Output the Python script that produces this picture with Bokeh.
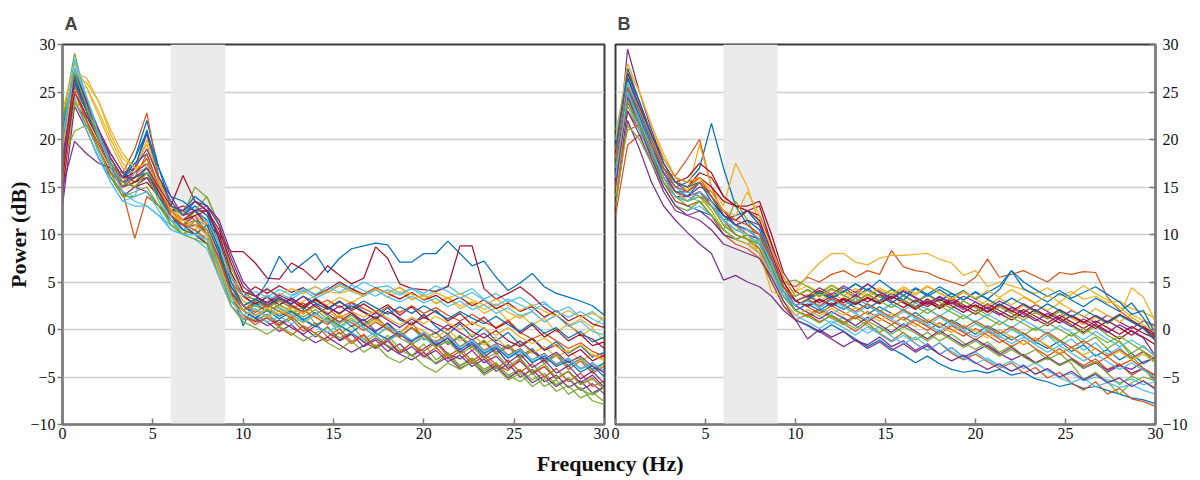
from bokeh.plotting import figure
from bokeh.layouts import column, row
from bokeh.models import Range1d, FixedTicker, ColumnDataSource
from bokeh.embed import file_html
from bokeh.resources import INLINE
from bokeh.core.properties import value

# frequency bins (Hz)
freq = [0, 0.67, 1.33, 2.0, 2.67, 3.33, 4.0, 4.67, 5.33, 6.0, 6.67, 7.33, 8.0, 8.67, 9.33, 10.0,
        10.67, 11.33, 12.0, 12.67, 13.33, 14.0, 14.67, 15.33, 16.0, 16.67, 17.33, 18.0, 18.67,
        19.33, 20.0, 20.67, 21.33, 22.0, 22.67, 23.33, 24.0, 24.67, 25.33, 26.0, 26.67, 27.33,
        28.0, 28.67, 29.33, 30.0]
band = [6, 9]          # shaded theta band (Hz)
x_ticks = [0, 5, 10, 15, 20, 25, 30]
y_ticks = [-10, -5, 0, 5, 10, 15, 20, 25, 30]
panel_labels = ["A", "B"]

# ---- Panel A (power in dB per subject) ----
a01 = [20, 27, 23, 20, 18, 16, 18, 22, 17, 13, 12, 13, 12, 9, 4, 0.4, 3, 5, 7.7, 6, 7, 8, 6, 7.5, 8.5, 8.8, 9.1, 8.9, 7.1, 7.1, 8, 8, 9.3, 8, 6.7, 7.2, 5.5, 4.1, 4.9, 5.9, 4.5, 3.8, 3.4, 3, 2.5, 1.5]
a02 = [19, 26, 22, 19.5, 17, 16.5, 19, 22.8, 16, 13, 12.5, 11.5, 11, 8, 5, 3.5, 3.2, 2.4, 3.1, 2.2, 2.8, 1.6, 2.3, 1.2, 1.9, 0.6, 1.4, 0.2, -0.4, 0.8, -1.1, -0.3, -1.6, -0.7, -2.2, -1.3, -2.6, -1.8, -3.1, -2.2, -3.6, -2.7, -4.2, -3.3, -4.6, -3.9]
a03 = [18, 25, 25.5, 23, 20, 17.5, 16, 17, 15, 13, 11.5, 11, 10.5, 7, 4.5, 3, 2.5, 2, 1.5, 2.2, 3, 3.5, 4, 3.8, 4.2, 3.5, 4.3, 3.9, 4.5, 3.2, 3.6, 2.8, 3.4, 2.5, 2.9, 2.1, 2.7, 1.8, 1.2, 1.9, 0.8, 1.5, 0.4, 1.1, 0.2, 1.4]
a04 = [16, 24, 22, 19, 16.5, 15, 17, 20.6, 15.5, 12.5, 11, 12, 10, 7.5, 3.5, 1.5, 0.8, 1.2, 0.5, 1.4, 0.2, -0.8, 0.3, -1.2, -0.5, -1.8, -1.1, -2.3, -1.5, -2.8, -2, -1.2, -2.6, -3.1, -2.2, -3.5, -2.8, -4.1, -3.3, -4.6, -3.9, -5.2, -4.4, -5.6, -4.8, -6.1]
a05 = [22, 29.1, 24, 20, 17.5, 15, 15.5, 16, 14, 12, 11, 12.5, 14, 11, 6, 3.5, 2.5, 3.5, 2.2, 1.5, 2.5, 0.5, 1.2, -0.5, 0.4, -1, -1.8, -0.6, -2.1, -2.8, -1.5, -3.2, -2.4, -3.8, -3, -4.2, -3.5, -4.8, -5.5, -4.6, -6, -5.3, -6.8, -6.1, -7.5, -7.9]
a06 = [21, 28.2, 24, 20, 17, 14.5, 13.5, 13, 12, 11, 10.5, 10, 9.5, 6, 3, 2, 2.5, 3, 3.8, 3.2, 4, 4.5, 3.9, 4.8, 4.2, 5, 4.4, 4.6, 3.8, 4.3, 3.5, 4.1, 4.6, 3.7, 4.3, 3.2, 3.8, 2.9, 3.4, 2.5, 2.9, 1.8, 2.4, 1.3, 1.9, 0.8]
a07 = [18, 27, 24, 21, 18.5, 16.5, 15.5, 16, 14, 12.5, 13, 12.5, 11, 10, 8.2, 8.2, 7, 5.4, 5.3, 7, 6.3, 5.2, 6.7, 5.7, 4.8, 5.4, 8.7, 7.5, 4.8, 4.3, 4.2, 4, 4.5, 8.8, 8.8, 4.3, 3.2, 3.8, 4.5, 3.5, 2.3, 1.5, 0.5, -0.5, -1, -2]
a08 = [17, 25, 22.5, 20, 18, 16, 17, 21, 16, 13.5, 12, 13.5, 12.5, 8, 4, 2, 2.8, 1.9, 2.6, 3.2, 2.1, 3.3, 2.4, 1.6, 2.8, 1.9, 1.2, 2.3, 1, 0.5, 1.6, 0.3, -0.5, 0.6, -0.8, 0.2, -1.2, -0.3, -1.6, -0.9, -2.1, -1.3, -2.5, -1.7, -2.9, -2.4]
a09 = [15, 24, 21.5, 19, 16, 14.5, 9.6, 14, 13, 12, 11, 10, 9, 5.5, 2.5, 1.2, 0.9, 1.6, 0.4, 1.1, -0.2, 0.7, -0.8, 0.1, -1.3, -0.5, -1.9, -1.1, -0.4, -1.6, -2.3, -1.4, -2.8, -2, -3.3, -2.5, -3.7, -4.3, -3.1, -4.7, -3.9, -5.2, -4.4, -5.8, -5.1, -6.3]
a10 = [20, 26.5, 26, 24, 20.5, 18, 17, 19.5, 15.5, 12.5, 11, 10.5, 11.5, 9, 5, 3, 2, 1.5, 2.5, 1.8, 2.4, 3, 2.6, 3.4, 2.8, 3.6, 4.2, 3.4, 4, 3.1, 3.7, 2.7, 3.3, 2.2, 2.8, 1.7, 2.3, 0.9, 1.6, 0.5, 1.2, -0.3, 0.6, -0.7, 0.1, -1.2]
a11 = [13, 23.5, 21, 18, 16, 14, 15, 16, 14.5, 12, 10.5, 11, 10, 7.5, 4.5, 2.5, 1.5, 0.8, -0.2, 0.5, -0.6, -1.4, -0.8, -1.6, -2.4, -1.7, -0.9, -1.8, -2.6, -3.2, -2.4, -3.6, -2.9, -4.1, -3.4, -4.6, -3.8, -5.1, -4.3, -5.6, -4.9, -6, -5.2, -6.4, -5.7, -6.8]
a12 = [18, 20.9, 21.5, 19, 16.5, 14, 14.5, 15, 13, 11.5, 10, 10.5, 9, 6, 3, 1.5, 1, 1.6, 0.7, 1.3, 0.3, -0.4, 0.2, -0.9, -0.3, -1.3, -0.6, -1.7, -2.3, -1.5, -2.8, -3.5, -2.6, -3.9, -3.1, -4.4, -3.6, -4.8, -4.2, -5.3, -4.6, -5.8, -5.1, -6.3, -6.9, -6.1]
a13 = [19, 26, 22, 18.5, 15.5, 13.5, 14, 17.5, 14, 11, 10, 9.5, 10, 7, 4, 2.5, 3, 3.6, 2.9, 3.5, 4.1, 3.3, 3.9, 4.6, 4, 3.5, 4.2, 3.4, 2.9, 3.5, 2.8, 3.3, 2.4, 3, 2.1, 2.6, 1.7, 2.3, 1.4, 1.9, 0.8, 1.5, 0.3, 0.9, -0.2, -0.6]
a14 = [14, 26.5, 23, 20, 17.5, 15.5, 15, 15.5, 14, 13, 16.2, 13.5, 12.5, 10, 6, 3.5, 4.5, 3.8, 4.6, 3.9, 4.4, 3.6, 4.2, 5, 4.3, 3.7, 4.4, 3.8, 3.2, 3.9, 3.1, 3.6, 2.8, 3.4, 2.5, 3.1, 2.2, 2.8, 1.9, 2.4, 1.3, 2, 0.9, 1.5, 0.6, 0.2]
a15 = [21, 27.5, 24, 21, 18, 16, 17.5, 18.5, 15, 12.5, 12.5, 14, 13, 9.5, 5, 2.5, 1.5, 2.2, 1.4, 2, 1, 1.8, 0.7, 1.4, 0.3, 1.1, -0.2, 0.6, -0.7, 0.2, -1, -0.3, -1.5, -0.8, -1.9, -1.2, -2.4, -1.6, -2.9, -2, -3.3, -2.6, -3.8, -3.1, -4.2, -3.5]
a16 = [17, 25, 22, 19, 16.5, 15.5, 16.5, 18, 14.5, 12, 11, 10.5, 9.5, 6.5, 3.5, 2, 3, 2.4, 3.2, 2.6, 1.8, 2.5, 3.1, 2.3, 2.9, 2.2, 1.6, 2.4, 1.8, 2.5, 1.7, 2.3, 1.5, 0.9, 1.6, 0.8, 0.2, 1, -0.3, -1, -0.4, -1.2, -2, -1.4, -2.3, -2.8]
a17 = [23, 28, 25.5, 22.5, 19.5, 17, 16.5, 20, 16, 12, 11.5, 12, 11, 8.5, 5.5, 4, 3.5, 4.2, 3.6, 4.3, 3.8, 4.5, 3.9, 4.6, 4.1, 3.6, 4.3, 3.8, 4.4, 3.7, 3.2, 3.9, 3.3, 3.8, 3.1, 2.6, 3.2, 2.5, 2, 2.6, 1.9, 1.4, 2, 1.3, 1.7, 1.1]
a18 = [15, 19.8, 18.5, 17.5, 17, 16, 15, 14.5, 13, 11.5, 11, 10, 9, 7, 4, 2, 1.2, 0.4, 1, 0.2, -0.5, 0.4, -0.3, -1.1, -0.4, -1.3, -2, -1.2, -2.5, -1.8, -2.9, -2.2, -3.4, -2.7, -3.9, -3.1, -4.4, -3.6, -5, -4.2, -5.5, -4.8, -6.1, -5.4, -6.7, -6]
a19 = [20, 26, 23, 20, 17, 15, 15.5, 17, 14, 13, 12, 15, 13.9, 11, 6.5, 4, 3, 2.2, 3, 2.4, 1.6, 2.5, 1.4, 0.6, 1.5, 0.4, 1.2, 0, -0.8, 0.2, -1, -0.3, -1.5, -0.6, -1.9, -1.1, -2.4, -1.6, -2.9, -2.1, -3.4, -2.6, -3.9, -3, -4.4, -3.7]
a20 = [16, 24.5, 21, 18, 15.5, 13.5, 13, 13, 12, 10.5, 10, 9.5, 8.5, 5.5, 2.5, 1, 1.5, 0.8, 1.4, 0.6, 1.2, 0.3, -0.3, 0.5, -0.4, -1, -0.3, -1.2, -0.5, -1.5, -0.9, -1.8, -1.2, -2.3, -1.6, -2.6, -2, -3, -2.4, -3.4, -2.8, -3.7, -3.1, -4.2, -3.6, -4.5]
a21 = [19, 27, 24, 21, 18, 16, 16.5, 17.5, 15, 12.5, 11.5, 12.5, 12.5, 9.5, 5.5, 3.5, 2.7, 3.4, 2.6, 3.3, 2.5, 3.2, 2.2, 3, 2, 2.7, 1.9, 2.6, 1.5, 2.4, 1.2, 2, 0.9, 1.7, 0.5, 1.3, 0.1, 0.8, -0.4, 0.5, -0.8, 0, -1.2, -0.5, -1.7, -1.3]
a22 = [22, 26.5, 23.5, 20.5, 18, 16, 18, 20.8, 17, 14, 13.5, 12.5, 11.5, 8.5, 4, 2, 1.2, 2, 1.1, 1.9, 1, 0.3, 1.2, 0.4, -0.3, 0.6, -0.4, -1, -0.2, -1.2, -0.5, -1.6, -0.9, -2.1, -1.3, -2.5, -1.8, -3, -2.2, -3.5, -2.8, -3.9, -3.3, -4.5, -3.8, -5]
a23 = [18, 25.5, 23, 20.5, 17.5, 16, 16, 17, 14.5, 12, 11, 11.5, 10, 7, 3.5, 1.5, 0.5, 1.3, 0.2, -0.6, 0.4, -0.4, -1.2, -0.3, -1.5, -0.6, -1.9, -1, -2.4, -1.4, -2.8, -1.9, -3.1, -2.3, -3.6, -2.8, -4.1, -3.2, -4.5, -3.6, -5, -4.1, -5.5, -4.6, -6, -5.4]
a24 = [16, 24, 23, 21, 18, 16, 15, 16.5, 14, 11.5, 10.5, 10, 9.5, 6, 3, 1.5, 2, 1.3, 2, 1.4, 0.7, 1.5, 0.8, 1.6, 0.9, 0.2, 1, 0.3, -0.4, 0.5, -0.2, -0.9, 0, -1.2, -0.5, -1.6, -0.8, -2.1, -1.3, -2.5, -1.8, -2.9, -2.2, -3.3, -2.6, -3.1]
a25 = [18, 26, 23.5, 21, 18.5, 16.5, 17, 19, 16, 14, 12, 12.5, 13, 11, 7.5, 4.5, 3.5, 2.6, 3.4, 2.5, 1.8, 2.7, 1.6, 0.8, 1.7, 0.5, -0.2, 0.7, -0.5, -1.3, -0.4, -1.7, -0.9, -2.4, -1.5, -2.9, -2, -3.5, -2.6, -4, -3.2, -4.6, -3.8, -5.2, -4.4, -5.7]
a26 = [17, 24, 21.5, 19, 16, 14, 14, 14.5, 13, 11, 10, 9.5, 9, 6.5, 3.5, 2, 2.5, 1.9, 2.6, 2, 1.3, 2.1, 1.1, 0.3, 1.2, 0.1, -0.7, 0.2, -0.9, -1.6, -0.6, -1.9, -1.2, -2.6, -1.8, -3.1, -2.5, -3.9, -3, -4.5, -3.6, -5.1, -4.4, -5.8, -5.2, -6.3]
a27 = [19, 27.5, 24.5, 21, 17.5, 15, 16.5, 17, 14, 11.5, 10.5, 11, 11.5, 9, 5.5, 3.5, 4, 3.4, 4.2, 3.6, 4.3, 3.7, 4.5, 3.9, 4.7, 4.1, 3.5, 4.2, 3.6, 4.4, 3.8, 4.6, 4, 3.3, 3.9, 3.1, 2.5, 3.2, 2.6, 2, 2.7, 1.9, 1.3, 1.9, 1.1, 0.5]
a28 = [16, 25, 22.5, 20, 17, 15, 15.5, 16.5, 14.5, 12.5, 11.5, 12, 12.5, 10.5, 7, 4, 3.5, 2.8, 3.6, 3, 2.3, 3.1, 2.4, 1.7, 2.5, 1.8, 1.1, 1.9, 1.2, 0.5, 1.3, 0.6, 0, 0.8, -0.2, -0.9, -0.1, -1.2, -1.8, -1, -2.2, -1.6, -2.8, -2.1, -3.3, -2.7]
a29 = [20, 26, 23, 20, 17.5, 15.5, 16, 16.5, 14, 12, 10.5, 10, 11, 8, 4.5, 2.5, 3.2, 2.5, 3.3, 2.7, 3.5, 2.8, 2.1, 2.9, 2.2, 3, 2.3, 1.6, 2.4, 1.7, 2.5, 1.8, 1.1, 1.9, 1.2, 0.6, 1.4, 0.5, -0.2, 0.7, -0.4, 0.2, -0.9, -0.2, -1.3, -0.8]
a30 = [21, 25, 22, 19.5, 17, 15, 16, 18.5, 15, 12, 11, 11, 10.5, 7.5, 4, 2.5, 1.8, 2.6, 1.9, 1.2, 2, 1.3, 0.5, 1.4, 0.7, -0.1, 0.8, 0, -0.8, 0.2, -0.6, -1.3, -0.5, -1.8, -1, -2.2, -1.5, -2.7, -2, -3.2, -2.5, -3.7, -3, -4.1, -3.5, -4.6]
a31 = [19, 27, 26.5, 24, 21, 18.5, 17, 17.5, 15, 12.5, 11.5, 11, 10, 7, 3.5, 2, 1.5, 2.2, 1.6, 2.3, 1.7, 2.4, 1.8, 1.2, 1.9, 1.3, 2, 1.2, 0.5, 1.3, 0.6, 1.4, 0.7, 0, 0.8, 0.1, -0.6, 0.2, -0.8, -1.5, -0.9, -1.8, -2.4, -1.6, -2.7, -3.3]
a32 = [17, 26.8, 24, 21, 18, 16, 16, 17, 15, 13, 12.5, 13.5, 13, 11.5, 8, 5, 3.5, 4.3, 3.4, 2.7, 3.5, 2.4, 1.6, 2.5, 1.7, 0.9, 1.8, 1, 0.2, 1.1, 0.3, -0.4, 0.5, -0.3, -1.1, -0.4, -1.4, -2, -1.2, -2.3, -3.1, -2.4, -3.5, -2.8, -3.9, -4.5]
a33 = [22, 27, 23.5, 20, 17.5, 15.5, 15, 16.5, 13.5, 11, 10, 11.5, 10.5, 6.5, 2.5, 0.8, 0.2, -0.5, 0.3, -0.4, -1.2, -0.5, -1.4, -2.1, -1.2, -2.4, -1.6, -2.9, -3.5, -2.6, -3.8, -4.5, -3.5, -4.2, -3.4, -4.8, -4, -5.3, -4.6, -6, -5.2, -6.5, -5.9, -7.2, -6.6, -7.6]
a34 = [20, 28.5, 24.5, 20.5, 17, 14.5, 14, 14.5, 12.5, 10.5, 10, 10, 9.5, 6.5, 3, 1.5, 2.2, 1.4, 2.3, 1.6, 0.8, 1.7, 0.9, 0.1, 1, 0.2, -0.6, 0.3, -0.4, -1.1, -0.3, -1.4, -0.7, -1.9, -1.1, -2.3, -1.6, -2.8, -2.1, -3.2, -2.6, -3.6, -3, -4.1, -3.5, -4.4]

# ---- Panel B ----
b01 = [17, 25, 22, 19, 16.5, 15, 15.5, 17, 21.7, 17, 13, 11, 10, 7, 4.5, 3, 2.5, 3.2, 2.4, 3.1, 2.3, 1.6, 2.4, 1.7, 1, 1.8, 0.9, 0.2, 1, 0.3, -0.5, 0.4, -0.3, -1.1, -0.4, -1.3, -2, -1.2, -2.3, -1.6, -2.8, -2.1, -3.2, -2.5, -3.6, -2.9]
b02 = [12, 19.4, 20.5, 19, 16.5, 16.2, 18, 20, 15, 12, 11, 10, 9.5, 7, 5, 4.5, 5.5, 5, 5.8, 6.2, 5.5, 6.2, 5.8, 8.3, 6.6, 6.2, 6, 5.4, 5, 4.6, 5.5, 7.4, 5.5, 5.8, 6.2, 5.6, 5, 6, 5.8, 6.1, 6, 3.4, 2, 1, 0.2, -1]
b03 = [16, 26.5, 23.5, 20, 17, 15, 14.5, 16, 14, 12, 11, 9.5, 8, 6, 4.5, 4, 5.7, 7, 8, 8, 7.1, 6.8, 7.5, 7.8, 7.8, 7.9, 8, 7.4, 7, 5.7, 6.2, 4.5, 5, 4.6, 4.2, 3.8, 4.4, 3.6, 4, 3.2, 3.5, 2.8, 3, 2.2, 1.8, 1.2]
b04 = [16, 29.5, 25, 21, 17.5, 15.5, 14.5, 14, 13.5, 12, 11, 10.5, 9.5, 7, 4.5, 3, 3.6, 2.8, 3.5, 4.4, 3.6, 4.8, 3.9, 3.2, 4, 3.3, 2.6, 3.4, 2.7, 3.5, 2.9, 2.2, 3, 2.4, 1.8, 2.6, 1.9, 1.2, 2, 1.4, 0.7, 1.5, 0.8, 0.1, 0.9, 0.4]
b05 = [18, 25.5, 22, 18.5, 16, 14, 13, 13.5, 12, 10.5, 13.5, 11.5, 9, 6.5, 4, 2.5, 3.1, 3.8, 3.2, 2.5, 3.3, 2.6, 1.8, 2.7, 2, 1.3, 2.2, 1.4, 0.6, 1.5, 0.7, 0, 0.9, 0.1, -0.6, 0.2, -0.5, -1.3, -0.4, -1.5, -0.8, -2, -1.2, -2.5, -1.7, -2.9]
b06 = [20, 27, 23.5, 20, 17, 15, 14, 13.5, 13, 11.5, 10, 9.5, 8.5, 5.5, 3.5, 2.5, 3, 2.3, 3.1, 2.4, 1.7, 2.5, 1.8, 1.1, 1.9, 1.2, 0.4, 1.3, 0.5, -0.2, 0.6, -0.1, -0.8, 0, -0.7, -1.5, -0.6, -1.7, -1, -2.2, -1.4, -2.6, -1.9, -3.1, -2.4, -3.4]
b07 = [14, 25, 22, 19, 17, 15.5, 15, 16.5, 16, 14, 13, 12.5, 13, 9, 5.5, 3.5, 4.2, 3.5, 4.3, 3.6, 2.9, 3.7, 3, 3.8, 3.1, 2.4, 3.2, 2.5, 3.3, 2.6, 1.9, 2.7, 2, 1.3, 2.1, 1.4, 0.7, 1.5, 0.8, 0.1, 0.9, 0.2, -0.5, 0.3, -0.4, -0.9]
b08 = [19, 24, 21.5, 18.5, 15.5, 13.5, 13, 12.5, 12, 10, 9.5, 9, 8, 5, 2.5, 1, 0.4, -0.3, 0.5, -0.2, -1, -1.8, -1.1, -2, -2.7, -3.5, -2.8, -3.6, -4.2, -4.5, -4.3, -4.6, -4.2, -4.8, -4.5, -5.2, -5.5, -6, -5.7, -6.2, -6, -6.4, -6.8, -7.2, -7.4, -7.8]
b09 = [15, 23, 21, 18, 15.5, 13.5, 13, 13.5, 12, 10, 9, 8.5, 7.5, 5, 2.5, 1, 1.6, 0.8, 1.5, 0.6, -0.2, 0.7, -0.4, -1.2, -0.3, -1.5, -2.2, -1.4, -2.5, -3.2, -2.6, -3.4, -4.1, -3.5, -4.6, -4, -5.1, -4.5, -5.6, -6.4, -5.5, -6.8, -6.2, -7.3, -7.6, -8.1]
b10 = [17, 27.5, 25, 21.5, 18.5, 16, 14.5, 19.5, 15, 13, 17.5, 15, 11, 7, 4.5, 3, 3.7, 3, 3.8, 3.1, 4, 3.4, 4.2, 3.5, 4.3, 3.6, 4.5, 3.8, 3.1, 3.9, 3.2, 2.5, 3.3, 2.6, 3.4, 2.7, 2, 2.8, 2.1, 1.3, 2.2, 1.5, 0.8, 1.6, 0.9, 0.2]
b11 = [13, 22, 19, 15.5, 13, 11.5, 10.2, 9, 8, 5.2, 5.7, 5, 4.5, 3.5, 2, 1, -1, 0, -0.8, -0.2, -1.2, -1.6, -0.8, -1.8, -1.2, -2.2, -1.5, -2.6, -1.9, -2.9, -2.3, -1.6, -2.5, -3.2, -2.6, -3.5, -2.9, -3.8, -3.1, -4.1, -3.5, -4.5, -3.8, -4.2, -3.4, -3]
b12 = [16, 23.5, 21, 18, 15.5, 14, 13.5, 14.5, 13, 11, 10, 9.5, 9, 6.5, 3.5, 2, 1.3, 2, 1.2, 0.5, 1.3, 0.4, -0.3, 0.5, -0.4, -1.1, -0.3, -1.2, -0.5, -1.4, -2.1, -1.3, -2.4, -1.7, -2.8, -2.1, -3.2, -2.5, -3.6, -5.3, -4.5, -5.5, -6.8, -5.6, -5, -5.4]
b13 = [21, 26, 22.5, 19.5, 16.5, 14.5, 14, 14.5, 13, 11.5, 10.5, 10, 8.5, 5.5, 3, 1.5, 2.1, 1.4, 0.6, 1.3, 0.4, -0.4, 0.3, -0.7, -1.5, -0.8, -1.8, -2.6, -1.9, -2.9, -3.6, -3, -3.8, -4.4, -3.7, -4.7, -4.2, -5.1, -5.6, -5.1, -6, -5.6, -6.1, -5.8, -6.4, -6.8]
b14 = [15, 26.5, 23.5, 20.5, 18, 16, 15.5, 16, 15, 13.5, 13, 12.5, 11.5, 8, 4.5, 3, 2.4, 3.1, 2.5, 3.2, 2.6, 3.3, 2.7, 3.5, 2.8, 2.1, 2.9, 2.2, 2.9, 2.3, 1.6, 2.4, 1.7, 1, 1.8, 1.1, 0.4, 1.2, 0.5, -0.3, 0.6, -0.2, -1, -0.1, -0.8, -1.6]
b15 = [18, 25.5, 22.5, 19, 16, 14, 14, 15.5, 14, 12, 11, 11.5, 10.5, 7, 4, 2.5, 3.2, 4, 3.3, 4.1, 3.4, 4.3, 3.5, 2.8, 3.6, 2.9, 3.7, 3, 3.8, 3.1, 4, 3.2, 4.2, 6.2, 4.3, 3.6, 2.9, 3.8, 3.1, 2.4, 3.3, 2.6, 1.9, 2.8, 1.2, -0.8]
b16 = [17, 24.5, 22, 19, 16, 14.5, 14, 14.5, 13, 11.5, 10, 9.5, 8.5, 6, 3.5, 2, 1.5, 2.2, 1.4, 0.7, 1.5, 0.8, 1.6, 0.9, 0.2, 1, 0.3, -0.5, 0.4, -0.3, -1.1, -0.2, -1, -1.8, -1.1, -2, -2.8, -2, -3, -3.8, -3.1, -4.2, -3.6, -4.8, -4.1, -5.3]
b17 = [19, 26, 23, 20, 17, 15.5, 15, 15.5, 13.5, 11.5, 10.5, 10, 8, 4, 3.5, 4, 4.6, 3.9, 4.7, 4, 3.3, 4.1, 3.4, 4.2, 3.5, 2.8, 3.6, 2.9, 2.2, 3, 2.3, 3.1, 2.4, 1.7, 2.5, 1.8, 1.1, 1.9, 1.2, 0.5, 1.3, 0.6, 1.4, 4.4, 3.4, 0.8]
b18 = [14, 23, 20.5, 17.5, 14.5, 12.5, 12, 12.5, 11.5, 10, 9.5, 10, 9.5, 7.5, 4.5, 2.5, 1.8, 1.1, 1.9, 1.2, 0.4, 1.3, 0.5, -0.3, 0.6, -0.2, -1, -0.1, -0.9, -1.7, -1, -1.8, -2.6, -1.9, -2.8, -3.5, -2.9, -3.7, -3.1, -4, -3.4, -4.3, -3.7, -4.6, -4.1, -4.9]
b19 = [19, 25, 22, 19, 16.5, 14.5, 13.5, 14, 12.5, 10.5, 9.5, 9, 9.5, 7, 5, 5.2, 4.5, 3.8, 4.6, 3.9, 4.8, 4.1, 3.4, 4.2, 3.5, 2.8, 3.6, 2.9, 2.2, 3, 2.3, 1.5, 2.4, 1.7, 1, 1.8, 1.1, 1.9, 0.4, -0.5, 0.4, -0.6, -1.3, -2.8, -4.1, -5.5]
b20 = [15, 24, 21, 18, 15, 13, 12.5, 13, 12, 10.5, 9.5, 9, 8, 5.5, 3, 1.5, 0.8, 0.1, 0.9, 0.2, -0.6, 0.3, -0.5, -1.3, -0.6, -1.5, -2.2, -1.4, -2.3, -3.1, -2.4, -3.2, -3.9, -3.3, -4.1, -3.5, -4.4, -5, -4.6, -5.4, -5, -5.3, -5.6, -5.2, -5.8, -5.5]
b21 = [18, 27, 24, 20.5, 17.5, 15.5, 16, 17.5, 16.5, 14, 13, 13, 13.5, 10, 6, 4, 3.4, 4.1, 3.5, 2.8, 3.6, 2.9, 3.7, 3, 2.3, 3.1, 2.4, 3.2, 2.5, 1.8, 2.6, 1.9, 2.7, 2, 1.3, 2.1, 1.4, 0.7, 1.5, 0.8, 0.1, 0.9, 0.2, -0.6, 0.3, -0.5]
b22 = [20, 26.5, 23, 19.5, 16.5, 14.5, 14.5, 15.5, 13.5, 11.5, 12, 12.5, 11, 7.5, 4, 2, 2.7, 2, 2.8, 2.1, 2.9, 2.2, 3, 3.8, 3.1, 4.3, 3.5, 4.2, 3.4, 4.1, 3.2, 3.9, 4.6, 6.2, 5, 4.2, 3.5, 4.1, 3.3, 3.9, 4.5, 3.7, 2.9, 1.6, 2, -0.5]
b23 = [16, 21, 21.5, 19.5, 17, 15.5, 15, 16, 14, 12, 11, 10.5, 10, 7.5, 4.5, 3, 2.4, 1.7, 2.5, 1.8, 1.1, 1.9, 1.2, 0.5, 1.3, 0.6, -0.1, 0.7, 0, -0.7, 0.1, -0.6, -1.4, -0.7, -1.6, -0.9, -1.8, -2.6, -1.9, -2.8, -3.6, -2.9, -3.8, -3.2, -4.1, -4.8]
b24 = [14, 24.5, 22, 19, 16.5, 14.5, 13.5, 14, 12.5, 10.5, 9.5, 9, 8, 5.5, 3, 1.5, 2.1, 1.4, 2.2, 1.5, 2.3, 1.6, 0.9, 1.7, 1, 0.3, 1.1, 0.4, -0.3, 0.5, -0.2, -0.9, 0, -0.8, -1.6, -0.9, -1.7, -2.5, -1.8, -2.7, -2, -2.9, -2.3, -3.2, -2.6, -3.5]
b25 = [17, 25, 22, 19, 16.5, 14.5, 14, 15, 14.5, 12.5, 11, 11.5, 11, 8.5, 5, 3, 3.5, 4.4, 3.7, 4.6, 3.9, 4.8, 4, 3.3, 4.1, 3.4, 2.7, 3.5, 2.8, 2.1, 2.9, 2.2, 1.5, 2.3, 1.6, 0.9, 1.7, 1, 0.3, 1.1, 0.4, -0.3, 0.5, -0.2, -0.9, -2.8]
b26 = [13, 21.5, 20, 17.5, 15, 13, 12.5, 13.5, 12, 10.5, 9.5, 10, 9, 6.5, 3.5, 2, 1.4, 0.7, 1.5, 0.8, 0.1, 0.9, 0.2, -0.5, 0.3, -0.4, -1.2, -0.3, -1.1, -1.9, -1.2, -2, -2.8, -2.1, -2.9, -3.6, -3, -3.8, -3.2, -4.1, -3.4, -4.6, -5.8, -4.9, -5.5, -6.1]
b27 = [18, 26, 23, 20, 17, 15, 14.5, 14, 13, 11.5, 10.5, 10, 9, 6, 3.5, 2.5, 3.1, 2.4, 3.2, 2.5, 3.3, 2.6, 1.9, 2.7, 2, 2.8, 2.1, 1.4, 2.2, 1.5, 0.8, 1.6, 0.9, 0.2, 1, 0.3, -0.4, 0.4, -0.3, -1.1, -0.2, -1, -1.8, -1.1, -1.9, -2.7]
b28 = [16, 24, 21.5, 18.5, 16, 14, 13.5, 14.5, 13.5, 12, 11.5, 12.5, 12, 9, 5, 3, 2.5, 3.2, 2.6, 3.3, 2.7, 3.4, 2.8, 3.5, 2.9, 2.2, 3, 2.3, 3.1, 2.4, 2.5, 1.8, 2.6, 1.9, 2.7, 2, 1.3, 2.1, 1.4, 0.7, 1.5, 0.8, 1.6, 0.9, 0.2, -0.8]
b29 = [19, 27.5, 24, 20.5, 17.5, 15.5, 15, 15.5, 14, 12, 11, 10.5, 9.5, 6.5, 4, 2.5, 3.1, 3.9, 3.2, 4, 4.8, 4.1, 5.2, 4.3, 3.6, 4.4, 3.7, 4.5, 3.8, 3.1, 3.9, 3.2, 2.5, 3.3, 2.6, 1.9, 2.7, 2, 1.3, 2.1, 1.4, 0.7, 1.5, 0.8, 0.1, -1.2]
b30 = [18, 25.5, 23, 20, 17, 15, 14.5, 15.5, 14, 12.5, 11.5, 11, 10, 7, 4, 2.5, 3.2, 2.5, 3.3, 2.6, 1.9, 2.7, 2, 1.3, 2.1, 1.4, 0.7, 1.5, 0.8, 0.1, 0.9, 0.2, -0.5, 0.3, -0.4, -1.2, -0.3, -1.1, -1.9, -1.2, -2, -2.8, -2.1, -3, -2.3, -3.1]
b31 = [20, 28, 25, 21.5, 18, 16, 15.5, 16, 14.5, 12.5, 12, 14.5, 12, 8.5, 5.5, 3.5, 4.1, 3.4, 4.2, 3.5, 4.3, 3.6, 4.4, 3.7, 4.5, 3.8, 4.6, 3.9, 3.2, 4, 3.3, 4.1, 3.4, 4.2, 3.5, 2.8, 3.6, 2.9, 3.7, 4.6, 3.8, 3.1, 2.4, 1.3, 0.5, -0.3]
b32 = [15, 24.5, 21.5, 18, 15, 13, 12, 11.5, 10.5, 9, 8.5, 8, 7.5, 5.5, 3, 1, 0.5, -0.2, -1, -1.8, -1.1, -2, -1.3, -2.2, -1.5, -2.4, -1.7, -2.6, -3.3, -2.7, -3.5, -4.2, -3.6, -4.4, -3.8, -4.7, -4.1, -5, -4.4, -5.3, -4.7, -5.6, -5.1, -6, -5.4, -6.3]
b33 = [17, 24, 21.5, 18.5, 16, 14, 13.5, 14, 13, 11, 10, 9.5, 9, 6.5, 4, 3.5, 4.2, 3.5, 4.3, 3.6, 2.9, 3.7, 3, 2.3, 3.1, 2.4, 1.7, 2.5, 1.8, 1.1, 1.9, 1.2, 0.5, 1.3, 0.6, -0.1, 0.7, 0, -0.7, 0.1, -0.6, -1.4, -0.7, -1.5, -2.3, -3.5]
b34 = [16, 25, 22, 19, 16, 14, 13.5, 14.5, 13.5, 11.5, 10.5, 10.5, 9.5, 7, 4, 2.5, 3, 2.3, 1.6, 2.4, 1.7, 1, 1.8, 1.1, 0.4, 1.2, 0.5, -0.2, 0.6, -0.1, -0.8, 0, -0.7, -1.5, -0.8, -1.6, -2.4, -1.7, -2.5, -3.3, -2.6, -3.4, -4.2, -3.5, -4.3, -5]

power_a = [a01, a02, a03, a04, a05, a06, a07, a08, a09, a10, a11, a12, a13, a14, a15, a16, a17,
           a18, a19, a20, a21, a22, a23, a24, a25, a26, a27, a28, a29, a30, a31, a32, a33, a34]
power_b = [b01, b02, b03, b04, b05, b06, b07, b08, b09, b10, b11, b12, b13, b14, b15, b16, b17,
           b18, b19, b20, b21, b22, b23, b24, b25, b26, b27, b28, b29, b30, b31, b32, b33, b34]

palette = ["#0072bd", "#d95319", "#edb120", "#7e2f8e", "#77ac30", "#4dbeee", "#a2142f"]

SERIF = "Liberation Serif"
AXIS_GRAY = "#7a7a7a"
minus = {v: ("\u2212" + str(-v)) for v in y_ticks if v < 0}


def make_panel(label, series, side, width, mbl, mbr):
    p = figure(width=width, height=446, x_range=Range1d(0, 30), y_range=Range1d(-10, 30),
               output_backend="svg", toolbar_location=None, y_axis_location=side,
               min_border_left=mbl, min_border_right=mbr, min_border_top=44,
               min_border_bottom=22)
    p.title.text = label
    p.title.text_font = "Liberation Sans"
    p.title.text_font_size = "18px"
    p.title.text_font_style = "bold"
    p.title.offset = 2
    p.title.standoff = 21
    p.background_fill_color = "white"
    p.border_fill_color = "white"
    p.outline_line_color = "#3a3a3a"
    p.outline_line_width = 2

    p.xgrid.visible = False
    p.ygrid.grid_line_color = "#cfcfcf"
    p.ygrid.grid_line_width = 1.5
    p.ygrid.ticker = FixedTicker(ticks=y_ticks)

    # shaded band (below the curves, above the grid)
    p.quad(left=[band[0]], right=[band[1]], bottom=[y_ticks[0]], top=[y_ticks[-1]],
           fill_color="#ebebeb", line_color=None)

    xs, ys, cols = [], [], []
    for i, s in enumerate(series):
        n = min(len(s), len(freq))
        xs.append(freq[:n])
        ys.append(s[:n])
        cols.append(palette[i % len(palette)])
    src = ColumnDataSource(dict(xs=xs, ys=ys, color=cols))
    p.multi_line(xs="xs", ys="ys", line_color="color", line_width=1.25, source=src)

    for ax in p.xaxis:
        ax.ticker = FixedTicker(ticks=x_ticks)
        ax.major_tick_in = 6
        ax.major_tick_out = 0
        ax.minor_tick_line_color = None
        ax.axis_line_color = AXIS_GRAY
        ax.axis_line_width = 2
        ax.major_tick_line_color = AXIS_GRAY
        ax.major_tick_line_width = 1.5
        ax.major_label_text_font = SERIF
        ax.major_label_text_font_size = "16px"
        ax.major_label_text_color = "#111111"
        ax.major_label_standoff = 3
    for ax in p.yaxis:
        ax.ticker = FixedTicker(ticks=y_ticks)
        ax.major_label_overrides = minus
        ax.minor_tick_line_color = None
        ax.axis_line_color = AXIS_GRAY
        ax.axis_line_width = 2
        ax.major_tick_line_color = AXIS_GRAY
        ax.major_tick_line_width = 1.5
        ax.major_label_text_font = SERIF
        ax.major_label_text_font_size = "16px"
        ax.major_label_text_color = "#111111"
        if side == "left":
            ax.major_tick_in = 0
            ax.major_tick_out = 5
            ax.major_label_standoff = 2
        else:
            ax.major_tick_in = 6
            ax.major_tick_out = 0
            ax.major_label_standoff = 7
    return p


pa = make_panel(panel_labels[0], power_a, "left", 609, 62, 5)
pa.yaxis.axis_label = "Power (dB)"
pa.yaxis.axis_label_text_font = SERIF
pa.yaxis.axis_label_text_font_style = "bold"
pa.yaxis.axis_label_text_font_size = "22px"
pa.yaxis.axis_label_text_color = "#111111"
pa.yaxis.axis_label_standoff = -4

pb = make_panel(panel_labels[1], power_b, "right", 591, 6, 45)

lab = figure(width=1200, height=34, x_range=Range1d(0, 1), y_range=Range1d(0, 1),
             output_backend="svg", toolbar_location=None, x_axis_location=None,
             y_axis_location=None, min_border=0)
lab.grid.visible = False
lab.outline_line_color = None
lab.text(x=[0.508], y=[0.5], text=["Frequency (Hz)"], text_font=value(SERIF),
         text_font_style="bold", text_font_size="22px", text_align="center",
         text_baseline="middle", text_color="#111111")

layout = column(row(pa, pb), lab)
open("out.html", "w").write(file_html(layout, INLINE))
